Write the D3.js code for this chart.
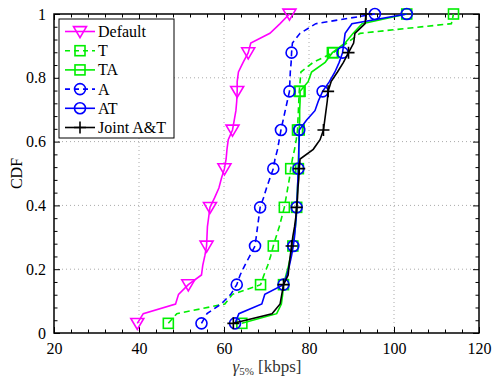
<!DOCTYPE html>
<html><head><meta charset="utf-8">
<script src="https://cdn.jsdelivr.net/npm/d3@7"></script>
<style>body{margin:0;background:#fff;} svg{display:block;} svg text{font-family:"Liberation Serif","Times New Roman",serif !important;}</style>
</head><body>
<script>
// CDF sample positions: k/33, k = 1..33
const cdfLevels = d3.range(1, 34).map(k => k / 33);
const seriesNames = ["Default", "T", "TA", "A", "AT", "Joint A&T"];
const defaultVals = [39.6,41.0,48.6,49.3,51.6,54.7,55.0,55.5,55.9,56.0,56.1,56.4,56.7,57.8,58.8,59.4,60.1,60.5,60.7,61.0,62.0,62.4,62.8,63.0,63.1,63.1,63.4,64.5,65.7,66.3,70.8,73.2,75.4];
const tVals = [46.9,48.9,60.2,62.0,68.6,69.4,70.3,71.0,71.6,72.3,73.0,73.6,74.2,74.6,75.0,75.4,75.7,76.1,76.6,77.0,77.3,77.4,77.5,77.6,77.7,77.9,78.1,81.0,85.7,88.9,92.0,113.5,114.0];
const taVals = [64.2,72.4,73.5,73.8,74.0,74.6,75.2,75.7,76.2,76.5,76.8,77.0,77.1,77.2,77.3,77.4,77.5,77.5,77.6,77.6,77.7,77.8,77.8,77.9,77.9,79.8,80.6,83.8,85.5,88.5,90.4,92.5,103.0];
const aVals = [54.7,56.0,59.3,61.6,63.0,63.8,64.9,66.1,67.3,67.6,67.9,68.2,68.5,69.3,70.0,70.8,71.6,72.0,72.6,73.0,73.4,73.9,74.4,74.9,75.4,75.5,75.6,75.8,75.9,76.1,77.9,81.6,95.5];
const atVals = [62.6,63.5,68.9,69.6,74.0,74.8,75.4,75.9,76.3,76.6,76.8,77.0,77.1,77.2,77.3,77.4,77.5,77.6,77.6,77.7,77.7,79.4,81.4,82.2,83.2,84.8,86.1,87.1,87.9,88.2,88.5,90.1,103.0];
const jointVals = [62.2,71.3,73.2,73.6,74.0,75.1,75.3,75.6,75.9,76.2,76.6,76.9,77.1,77.3,77.4,77.6,77.7,77.9,81.0,82.6,83.4,83.7,84.0,84.3,84.5,85.2,86.7,88.1,89.3,90.5,90.8,93.2,93.4];
const xTicks = [20, 40, 60, 80, 100, 120];
const yTicks = [0, 0.2, 0.4, 0.6, 0.8, 1];
const yTickLabels = ["0", "0.2", "0.4", "0.6", "0.8", "1"];

const styles = [
  {color:"#ff00ff", dash:null, marker:"tri"},
  {color:"#00ee00", dash:"6,4", marker:"sq"},
  {color:"#00ee00", dash:null, marker:"sq"},
  {color:"#0000ff", dash:"6,4", marker:"circ"},
  {color:"#0000ff", dash:null, marker:"circ"},
  {color:"#000000", dash:null, marker:"plus"}
];
const allVals = [defaultVals, tVals, taVals, aVals, atVals, jointVals];

const W = 496, H = 378;
const L = 54, R = 479, T = 14, B = 333;
const svg = d3.select("body").append("svg").attr("width", W).attr("height", H);
const x = d3.scaleLinear().domain([20, 120]).range([L, R]);
const y = d3.scaleLinear().domain([0, 1]).range([B, T]);

// grid
const g = svg.append("g");
g.selectAll(".gx").data(xTicks.slice(1, -1)).enter().append("line")
  .attr("x1", d => x(d)).attr("x2", d => x(d)).attr("y1", T).attr("y2", B)
  .attr("stroke", "#aaa").attr("stroke-width", 1).attr("stroke-dasharray", "1,3");
g.selectAll(".gy").data(yTicks.slice(1, -1)).enter().append("line")
  .attr("y1", d => y(d)).attr("y2", d => y(d)).attr("x1", L).attr("x2", R)
  .attr("stroke", "#aaa").attr("stroke-width", 1).attr("stroke-dasharray", "1,3");

// axes with inward ticks
const xMinor = d3.range(20, 120.1, 4).filter(v => !xTicks.includes(v));
const yMinor = d3.range(0, 1.001, 0.04).map(v => +v.toFixed(2)).filter(v => !yTicks.some(t => Math.abs(t - v) < 1e-6));
function addAxis(axis, transform) {
  const a = svg.append("g").attr("transform", transform).call(axis);
  a.select(".domain").remove();
  a.selectAll("line").attr("stroke", "#000").attr("stroke-width", 1);
  return a;
}
const bottomMaj = addAxis(d3.axisBottom(x).tickValues(xTicks).tickSize(-6).tickPadding(10).tickFormat(d3.format("d")), `translate(0,${B})`);
bottomMaj.selectAll("text").attr("font-size", 16).attr("fill", "#000");
addAxis(d3.axisBottom(x).tickValues(xMinor).tickSize(-3.5).tickFormat(""), `translate(0,${B})`);
addAxis(d3.axisTop(x).tickValues(xTicks).tickSize(-6).tickFormat(""), `translate(0,${T})`);
addAxis(d3.axisTop(x).tickValues(xMinor).tickSize(-3.5).tickFormat(""), `translate(0,${T})`);
const leftMaj = addAxis(d3.axisLeft(y).tickValues(yTicks).tickSize(-6).tickPadding(8).tickFormat((d, i) => yTickLabels[i]), `translate(${L},0)`);
leftMaj.selectAll("text").attr("font-size", 16).attr("fill", "#000");
addAxis(d3.axisLeft(y).tickValues(yMinor).tickSize(-3.5).tickFormat(""), `translate(${L},0)`);
addAxis(d3.axisRight(y).tickValues(yTicks).tickSize(-6).tickFormat(""), `translate(${R},0)`);
addAxis(d3.axisRight(y).tickValues(yMinor).tickSize(-3.5).tickFormat(""), `translate(${R},0)`);

// frame
svg.append("rect").attr("x", L).attr("y", T).attr("width", R - L).attr("height", B - T)
  .attr("fill", "none").attr("stroke", "#000").attr("stroke-width", 1.5);

function drawMarker(sel, type, color, cx, cy) {
  const sw = 1.6;
  if (type === "tri") {
    const s = 6.5;
    sel.append("path").attr("d", `M${cx - s},${cy - s * 0.75}L${cx + s},${cy - s * 0.75}L${cx},${cy + s * 0.95}Z`)
      .attr("fill", "none").attr("stroke", color).attr("stroke-width", sw);
  } else if (type === "sq") {
    const s = 5;
    sel.append("rect").attr("x", cx - s).attr("y", cy - s).attr("width", 2 * s).attr("height", 2 * s)
      .attr("fill", "none").attr("stroke", color).attr("stroke-width", sw);
  } else if (type === "circ") {
    sel.append("circle").attr("cx", cx).attr("cy", cy).attr("r", 5.5)
      .attr("fill", "none").attr("stroke", color).attr("stroke-width", sw);
  } else if (type === "plus") {
    const s = 6;
    sel.append("path").attr("d", `M${cx - s},${cy}L${cx + s},${cy}M${cx},${cy - s}L${cx},${cy + s}`)
      .attr("stroke", color).attr("stroke-width", sw);
  }
}

const line = d3.line().x(d => x(d[0])).y(d => y(d[1]));
allVals.forEach((vals, si) => {
  const st = styles[si];
  const pts = vals.map((v, i) => [v, cdfLevels[i]]);
  const gs = svg.append("g");
  gs.append("path").attr("d", line(pts)).attr("fill", "none").attr("stroke", st.color)
    .attr("stroke-width", 1.6).attr("stroke-dasharray", st.dash);
  pts.forEach((p, i) => {
    if (i % 4 === 0) drawMarker(gs, st.marker, st.color, x(p[0]), y(p[1]));
  });
});

// legend
const lg = svg.append("g");
lg.append("rect").attr("x", 59).attr("y", 19).attr("width", 115).attr("height", 119)
  .attr("fill", "#fff").attr("stroke", "#000").attr("stroke-width", 1);
seriesNames.forEach((name, i) => {
  const st = styles[i];
  const cy = 31.5 + i * 19.2;
  lg.append("line").attr("x1", 65).attr("x2", 95).attr("y1", cy).attr("y2", cy)
    .attr("stroke", st.color).attr("stroke-width", 1.6).attr("stroke-dasharray", st.dash ? "5,4" : null);
  drawMarker(lg, st.marker, st.color, 80, cy);
  lg.append("text").attr("x", 98).attr("y", cy + 5.5).attr("font-size", 16).text(name);
});

// labels
svg.append("text").attr("transform", `translate(22,${(T + B) / 2}) rotate(-90)`)
  .attr("text-anchor", "middle").attr("font-size", 16).text("CDF");
const xl = svg.append("text").attr("x", 267).attr("y", 372).attr("text-anchor", "middle")
  .attr("font-size", 17).attr("fill", "#333");
xl.append("tspan").attr("font-style", "italic").text("γ");
xl.append("tspan").attr("font-size", 11).attr("dy", 3).text("5%");
xl.append("tspan").attr("dy", -3).text(" [kbps]");
</script>
</body></html>
